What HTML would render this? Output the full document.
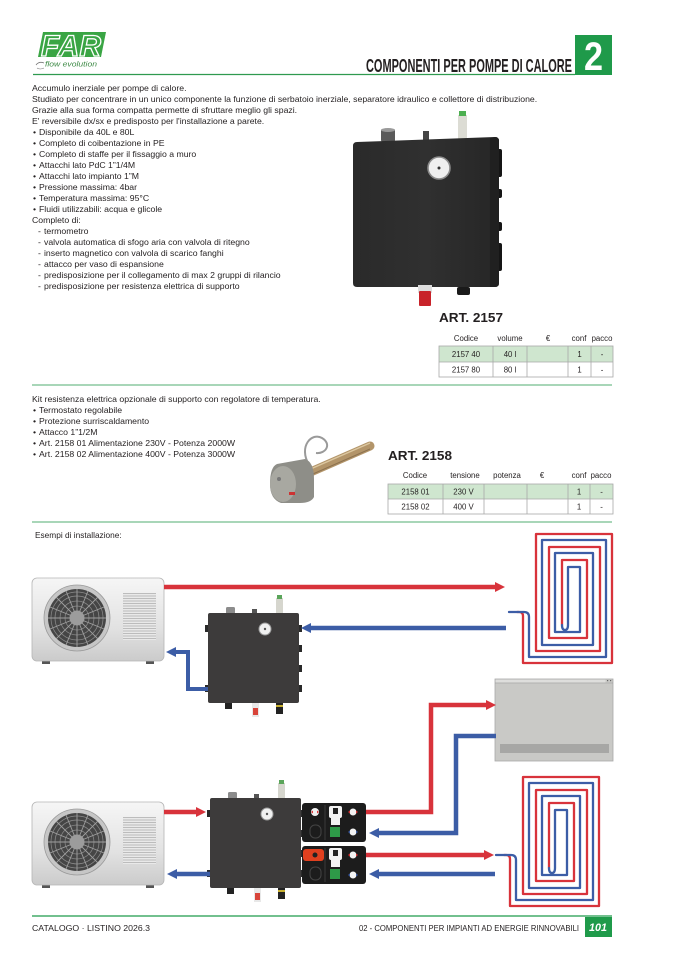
<!DOCTYPE html>
<html><head><meta charset="utf-8">
<style>
html,body{margin:0;padding:0;background:#fff;}
svg{display:block;}
text{font-family:"Liberation Sans",Arial,sans-serif;fill:#231f20;}
</style></head><body>
<svg width="677" height="958" viewBox="0 0 677 958" xmlns="http://www.w3.org/2000/svg">
<defs>
 <linearGradient id="hpg" x1="0" y1="0" x2="0" y2="1"><stop offset="0" stop-color="#f6f6f6"/><stop offset="0.6" stop-color="#e2e2e2"/><stop offset="1" stop-color="#cbcbcb"/></linearGradient>
 <linearGradient id="accg" x1="0" y1="0" x2="1" y2="0"><stop offset="0" stop-color="#2a2a2a"/><stop offset="0.5" stop-color="#303030"/><stop offset="1" stop-color="#262626"/></linearGradient>
 <pattern id="grl" width="4" height="2.5" patternUnits="userSpaceOnUse"><rect width="4" height="2.5" fill="#e9e9e9"/><rect width="4" height="1" fill="#bcbcbc"/></pattern>
 <g id="hp">
  <rect x="10" y="81" width="8" height="5" fill="#555"/>
  <rect x="114" y="81" width="8" height="5" fill="#555"/>
  <rect x="0" y="0" width="132" height="83" rx="5" fill="url(#hpg)" stroke="#b5b5b5" stroke-width="0.8"/>
  <rect x="91" y="15" width="33" height="47" fill="url(#grl)"/>
  <circle cx="45" cy="40" r="33" fill="#c6c6c6" stroke="#9a9a9a" stroke-width="0.8"/>
  <circle cx="45" cy="40" r="29" fill="#454545"/>
  <g fill="none" stroke="#8c8c8c" stroke-width="0.7">
   <circle cx="45" cy="40" r="12"/><circle cx="45" cy="40" r="17"/><circle cx="45" cy="40" r="22"/><circle cx="45" cy="40" r="26"/>
  </g>
  <g stroke="#a0a0a0" stroke-width="0.9">
   <line x1="45" y1="11" x2="45" y2="69"/><line x1="16" y1="40" x2="74" y2="40"/>
   <line x1="24.5" y1="19.5" x2="65.5" y2="60.5"/><line x1="65.5" y1="19.5" x2="24.5" y2="60.5"/>
   <line x1="34" y1="13" x2="56" y2="67"/><line x1="56" y1="13" x2="34" y2="67"/>
   <line x1="18" y1="29" x2="72" y2="51"/><line x1="18" y1="51" x2="72" y2="29"/>
  </g>
  <circle cx="45" cy="40" r="7.5" fill="#9c9c9c"/>
 </g>
 <g id="acc">
  <rect x="18" y="-6" width="9" height="7" rx="1.5" fill="#8c8c8c"/>
  <rect x="44" y="-4" width="5" height="5" fill="#555"/>
  <rect x="68" y="-15" width="7" height="16" fill="#d6d6ce"/>
  <rect x="69" y="-18" width="5" height="4" fill="#5aa55a"/>
  <rect x="-3" y="12" width="4" height="7" fill="#2a2a2a"/>
  <rect x="-3" y="72" width="4" height="7" fill="#2a2a2a"/>
  <rect x="90" y="12" width="4" height="7" fill="#2a2a2a"/>
  <rect x="90" y="32" width="4" height="7" fill="#2a2a2a"/>
  <rect x="90" y="52" width="4" height="7" fill="#2a2a2a"/>
  <rect x="90" y="72" width="4" height="7" fill="#2a2a2a"/>
  <rect x="0" y="0" width="91" height="90" rx="2" fill="#3d3b3b"/>
  <circle cx="57" cy="16" r="6" fill="#f0f0f0" stroke="#9a9a9a" stroke-width="1"/>
  <circle cx="57" cy="16" r="1.2" fill="#555"/>
  <rect x="17" y="90" width="7" height="6" fill="#222"/>
  <rect x="44" y="90" width="7" height="14" fill="#e8e8e8"/>
  <rect x="45" y="95" width="5" height="7" fill="#d8443a"/>
  <rect x="68" y="90" width="7" height="11" fill="#222"/>
  <rect x="68" y="92" width="7" height="2" fill="#c8b030"/>
 </g>
 <g id="coil" fill="none" stroke-width="2.3" stroke-linejoin="round" stroke-linecap="round">
  <path stroke="#d8333b" d="M517,612 H519 Q523,612 523,616 V663 H612 V534 H536 V651 H600 V547 H549 V638 H587 V560 H562 V625"/>
  <path stroke="#3c5da6" d="M509,612 H524 Q529,612 529,617 V657 H606 V540 H542 V645 H593 V553 H555 V632 H580 V567 H568 V625 Q568,630 565,630 Q562,630 562,625"/>
 </g>
</defs>

<!-- HEADER -->
<polygon points="43,32 106,32 101,57 38,57" fill="#3aa544"/>
<text x="41" y="56" font-size="30" font-weight="bold" font-style="italic" textLength="60" lengthAdjust="spacingAndGlyphs" style="fill:#3aa544" stroke="#fff" stroke-width="1.3">FAR</text>
<path d="M36,65 Q39,61 44,63" fill="none" stroke="#777" stroke-width="0.8"/>
<path d="M37,68 Q40,70 44,68" fill="none" stroke="#777" stroke-width="0.6"/>
<text x="45" y="66.5" font-size="7.5" font-style="italic" textLength="52" lengthAdjust="spacingAndGlyphs" style="fill:#3d8a45">flow evolution</text>

<text x="366" y="72" font-size="18" font-weight="bold" textLength="206" lengthAdjust="spacingAndGlyphs">COMPONENTI PER POMPE DI CALORE</text>
<rect x="575" y="35" width="37" height="40" fill="#1f9a4a"/>
<text x="584" y="70" font-size="40" font-weight="bold" textLength="19" lengthAdjust="spacingAndGlyphs" style="fill:#fff">2</text>
<line x1="33" y1="74.5" x2="575" y2="74.5" stroke="#2f9a4f" stroke-width="1.2"/>

<!-- BODY TEXT 1 -->
<g font-size="8.7">
<text x="32" y="91">Accumulo inerziale per pompe di calore.</text>
<text x="32" y="102">Studiato per concentrare in un unico componente la funzione di serbatoio inerziale, separatore idraulico e collettore di distribuzione.</text>
<text x="32" y="113">Grazie alla sua forma compatta permette di sfruttare meglio gli spazi.</text>
<text x="32" y="124">E' reversibile dx/sx e predisposto per l'installazione a parete.</text>
<text x="33" y="135">•</text><text x="39" y="135">Disponibile da 40L e 80L</text>
<text x="33" y="146">•</text><text x="39" y="146">Completo di coibentazione in PE</text>
<text x="33" y="157">•</text><text x="39" y="157">Completo di staffe per il fissaggio a muro</text>
<text x="33" y="168">•</text><text x="39" y="168">Attacchi lato PdC 1”1/4M</text>
<text x="33" y="179">•</text><text x="39" y="179">Attacchi lato impianto 1”M</text>
<text x="33" y="190">•</text><text x="39" y="190">Pressione massima: 4bar</text>
<text x="33" y="201">•</text><text x="39" y="201">Temperatura massima: 95°C</text>
<text x="33" y="212">•</text><text x="39" y="212">Fluidi utilizzabili: acqua e glicole</text>
<text x="32" y="223">Completo di:</text>
<text x="38" y="234">-</text><text x="44" y="234">termometro</text>
<text x="38" y="245">-</text><text x="44" y="245">valvola automatica di sfogo aria con valvola di ritegno</text>
<text x="38" y="256">-</text><text x="44" y="256">inserto magnetico con valvola di scarico fanghi</text>
<text x="38" y="267">-</text><text x="44" y="267">attacco per vaso di espansione</text>
<text x="38" y="278">-</text><text x="44" y="278">predisposizione per il collegamento di max 2 gruppi di rilancio</text>
<text x="38" y="289">-</text><text x="44" y="289">predisposizione per resistenza elettrica di supporto</text>
</g>

<!-- PRODUCT PHOTO 1 -->
<rect x="381" y="129" width="14" height="13" rx="2" fill="#5a5a5a"/>
<ellipse cx="388" cy="130" rx="7" ry="2" fill="#9a9a9a"/>
<rect x="423" y="131" width="6" height="9" fill="#444"/>
<rect x="458" y="115" width="9" height="26" fill="#dcdcd4"/>
<rect x="459" y="111" width="7" height="5" fill="#4caf50"/>
<rect x="494" y="149" width="8" height="28" rx="2" fill="#151515"/>
<rect x="494" y="189" width="8" height="9" rx="2" fill="#151515"/>
<rect x="494" y="222" width="8" height="9" rx="2" fill="#151515"/>
<rect x="494" y="243" width="8" height="28" rx="2" fill="#151515"/>
<path d="M357,142 L495,137 Q499,137 499,141 L499,283 Q499,287 495,287 L357,287 Q353,287 353,283 L353,146 Q353,142 357,142Z" fill="url(#accg)"/>
<path d="M490,138 L495,137 Q499,137 499,141 L499,283 Q499,287 495,287 L490,287Z" fill="#202020"/>
<circle cx="439" cy="168" r="11" fill="#efefef" stroke="#8a8a8a" stroke-width="1.6"/>
<circle cx="439" cy="168" r="1.5" fill="#333"/>
<rect x="418" y="285" width="14" height="8" fill="#ddd"/>
<rect x="419" y="291" width="12" height="15" rx="1" fill="#c8232a"/>
<rect x="457" y="287" width="13" height="8" rx="2" fill="#1a1a1a"/>

<!-- TABLE 1 -->
<text x="439" y="322" font-size="13" font-weight="bold" textLength="64" lengthAdjust="spacingAndGlyphs">ART. 2157</text>
<g font-size="7.8" text-anchor="middle">
<text x="466" y="341">Codice</text><text x="510" y="341">volume</text><text x="548" y="341">€</text><text x="579" y="341">conf</text><text x="602" y="341">pacco</text>
</g>
<rect x="439" y="346" width="174" height="16" fill="#cfe6cf"/>
<rect x="439" y="346" width="174" height="31" fill="none" stroke="#a8a8a8" stroke-width="0.8"/>
<g stroke="#a8a8a8" stroke-width="0.8">
<line x1="439" y1="362" x2="613" y2="362"/>
<line x1="493" y1="346" x2="493" y2="377"/><line x1="527" y1="346" x2="527" y2="377"/><line x1="568" y1="346" x2="568" y2="377"/><line x1="591" y1="346" x2="591" y2="377"/>
</g>
<g font-size="7.8" text-anchor="middle">
<text x="466" y="357">2157 40</text><text x="510" y="357">40 l</text><text x="579.5" y="357">1</text><text x="602" y="357">-</text>
<text x="466" y="372.5">2157 80</text><text x="510" y="372.5">80 l</text><text x="579.5" y="372.5">1</text><text x="602" y="372.5">-</text>
</g>
<line x1="32" y1="385" x2="612" y2="385" stroke="#8cc9a0" stroke-width="1.5"/>

<!-- SECTION 2 -->
<g font-size="8.7">
<text x="32" y="402">Kit resistenza elettrica opzionale di supporto con regolatore di temperatura.</text>
<text x="33" y="413">•</text><text x="39" y="413">Termostato regolabile</text>
<text x="33" y="424">•</text><text x="39" y="424">Protezione surriscaldamento</text>
<text x="33" y="435">•</text><text x="39" y="435">Attacco 1”1/2M</text>
<text x="33" y="446">•</text><text x="39" y="446">Art. 2158 01 Alimentazione 230V - Potenza 2000W</text>
<text x="33" y="457">•</text><text x="39" y="457">Art. 2158 02 Alimentazione 400V - Potenza 3000W</text>
</g>

<!-- heater -->
<path d="M309,465 C298,446 312,432 322,438 C332,444 326,454 316,453" fill="none" stroke="#9a9a9a" stroke-width="2"/>
<line x1="306" y1="474" x2="370" y2="446" stroke="#b3956a" stroke-width="9" stroke-linecap="round"/>
<line x1="306" y1="471" x2="370" y2="443" stroke="#dcc7a0" stroke-width="1.5"/>
<line x1="306" y1="477" x2="370" y2="449" stroke="#8c7250" stroke-width="1"/>
<path d="M277,464 L305,459 Q314,462 314,479 L314,497 Q311,503 300,503 L281,503 Q270,499 270,484 Q270,467 277,464Z" fill="#8e8e88"/>
<ellipse cx="283" cy="484" rx="13" ry="18" fill="#a8a8a1"/>
<circle cx="279" cy="479" r="2" fill="#777"/>
<rect x="289" y="492" width="6" height="3" fill="#c33"/>

<!-- TABLE 2 -->
<text x="388" y="460" font-size="13" font-weight="bold" textLength="64" lengthAdjust="spacingAndGlyphs">ART. 2158</text>
<g font-size="7.8" text-anchor="middle">
<text x="415" y="478">Codice</text><text x="465" y="478">tensione</text><text x="507" y="478">potenza</text><text x="542" y="478">€</text><text x="579" y="478">conf</text><text x="601" y="478">pacco</text>
</g>
<rect x="388" y="484" width="225" height="15" fill="#cfe6cf"/>
<rect x="388" y="484" width="225" height="30" fill="none" stroke="#a8a8a8" stroke-width="0.8"/>
<g stroke="#a8a8a8" stroke-width="0.8">
<line x1="388" y1="499" x2="613" y2="499"/>
<line x1="443" y1="484" x2="443" y2="514"/><line x1="484" y1="484" x2="484" y2="514"/><line x1="527" y1="484" x2="527" y2="514"/><line x1="568" y1="484" x2="568" y2="514"/><line x1="590" y1="484" x2="590" y2="514"/>
</g>
<g font-size="7.8" text-anchor="middle">
<text x="415.5" y="494.5">2158 01</text><text x="463.5" y="494.5">230 V</text><text x="579" y="494.5">1</text><text x="601.5" y="494.5">-</text>
<text x="415.5" y="509.5">2158 02</text><text x="463.5" y="509.5">400 V</text><text x="579" y="509.5">1</text><text x="601.5" y="509.5">-</text>
</g>
<line x1="32" y1="522" x2="612" y2="522" stroke="#8cc9a0" stroke-width="1.5"/>

<!-- INSTALLATION DIAGRAM -->
<text x="35" y="538" font-size="8.3">Esempi di installazione:</text>

<use href="#coil"/>
<use href="#coil" transform="translate(-13,243)"/>

<!-- fan coil -->
<rect x="495" y="679" width="118" height="82" fill="#c9c9c6" stroke="#a8a8a8" stroke-width="0.8"/>
<rect x="495.5" y="679.5" width="110" height="3" fill="#dededc"/>
<line x1="495" y1="683" x2="613" y2="683" stroke="#9a9a9a" stroke-width="0.6"/>
<rect x="500" y="744" width="109" height="9" fill="#a7a7a5"/>
<rect x="607" y="680" width="1.2" height="1.2" fill="#666"/><rect x="610" y="680" width="1.2" height="1.2" fill="#666"/>

<!-- heat pumps -->
<use href="#hp" transform="translate(32,578)"/>
<use href="#hp" transform="translate(32,802)"/>

<!-- accumulators -->
<use href="#acc" transform="translate(208,613)"/>
<use href="#acc" transform="translate(210,798)"/>

<!-- relaunch groups -->
<g transform="translate(302,803)">
 <rect x="0" y="0" width="64" height="39" rx="3" fill="#1c1c1c"/>
 <line x1="23" y1="2" x2="23" y2="37" stroke="#3a3a3a" stroke-width="1"/>
 <circle cx="13" cy="9" r="4" fill="#f2f2f2"/><polygon points="9,9 11,7.5 11,10.5" fill="#d33"/><polygon points="17,9 15,7.5 15,10.5" fill="#d33"/>
 <rect x="8" y="22" width="11" height="13" rx="5" fill="none" stroke="#444" stroke-width="1"/>
 <rect x="27" y="3" width="13" height="12" rx="2" fill="#f2f2f2"/><rect x="29" y="13" width="9" height="9" fill="#f2f2f2"/><rect x="31" y="5" width="5" height="6" fill="#222"/>
 <rect x="28" y="24" width="10" height="10" fill="#2e9a48"/>
 <circle cx="51" cy="9" r="3.5" fill="#f2f2f2"/><polygon points="46,9 48,7.5 48,10.5" fill="#d33"/><polygon points="56,9 54,7.5 54,10.5" fill="#d33"/>
 <circle cx="51" cy="29" r="3.5" fill="#f2f2f2"/><polygon points="46,29 48,27.5 48,30.5" fill="#3c5da6"/><polygon points="56,29 54,27.5 54,30.5" fill="#3c5da6"/>
</g>
<g transform="translate(302,846)">
 <rect x="0" y="0" width="64" height="38" rx="3" fill="#1c1c1c"/>
 <line x1="23" y1="2" x2="23" y2="36" stroke="#3a3a3a" stroke-width="1"/>
 <rect x="1" y="3" width="21" height="12" rx="3" fill="#e0401f"/><circle cx="13" cy="9" r="2.5" fill="#222"/>
 <rect x="8" y="21" width="11" height="13" rx="5" fill="none" stroke="#444" stroke-width="1"/>
 <rect x="27" y="2" width="13" height="12" rx="2" fill="#f2f2f2"/><rect x="29" y="12" width="9" height="9" fill="#f2f2f2"/><rect x="31" y="4" width="5" height="6" fill="#222"/>
 <rect x="28" y="23" width="10" height="10" fill="#2e9a48"/>
 <circle cx="51" cy="9" r="3.5" fill="#f2f2f2"/><polygon points="46,9 48,7.5 48,10.5" fill="#d33"/><polygon points="56,9 54,7.5 54,10.5" fill="#d33"/>
 <circle cx="51" cy="29" r="3.5" fill="#f2f2f2"/><polygon points="46,29 48,27.5 48,30.5" fill="#3c5da6"/><polygon points="56,29 54,27.5 54,30.5" fill="#3c5da6"/>
</g>

<!-- arrows -->
<g fill="none" stroke-width="4.5">
 <line x1="164" y1="587" x2="497" y2="587" stroke="#d8333b"/>
 <line x1="506" y1="628" x2="309" y2="628" stroke="#3c5da6"/>
 <path d="M208,689 H188 V652 H175" stroke="#3c5da6" stroke-width="4"/>
 <path d="M366,812 H431 V705 H488" stroke="#d8333b"/>
 <path d="M496,736 H456 V833 H377" stroke="#3c5da6"/>
 <line x1="366" y1="855" x2="486" y2="855" stroke="#d8333b"/>
 <line x1="495" y1="874" x2="377" y2="874" stroke="#3c5da6"/>
 <line x1="164" y1="812" x2="198" y2="812" stroke="#d8333b"/>
 <line x1="210" y1="874" x2="175" y2="874" stroke="#3c5da6"/>
</g>
<g>
 <polygon points="495,582 505,587 495,592" fill="#d8333b"/>
 <polygon points="311,623 301,628 311,633" fill="#3c5da6"/>
 <polygon points="176,647 166,652 176,657" fill="#3c5da6"/>
 <polygon points="486,700 496,705 486,710" fill="#d8333b"/>
 <polygon points="379,828 369,833 379,838" fill="#3c5da6"/>
 <polygon points="484,850 494,855 484,860" fill="#d8333b"/>
 <polygon points="379,869 369,874 379,879" fill="#3c5da6"/>
 <polygon points="196,807 206,812 196,817" fill="#d8333b"/>
 <polygon points="177,869 167,874 177,879" fill="#3c5da6"/>
</g>

<!-- FOOTER -->
<line x1="32" y1="916" x2="612" y2="916" stroke="#1f9a4a" stroke-width="1.3"/>
<text x="32" y="931" font-size="8.5" textLength="118" lengthAdjust="spacingAndGlyphs">CATALOGO · LISTINO 2026.3</text>
<text x="359" y="931" font-size="8" textLength="220" lengthAdjust="spacingAndGlyphs">02 - COMPONENTI PER IMPIANTI AD ENERGIE RINNOVABILI</text>
<rect x="585" y="917" width="27" height="20" fill="#1f9a4a"/>
<text x="589" y="931" font-size="11" font-weight="bold" font-style="italic" textLength="18" lengthAdjust="spacingAndGlyphs" style="fill:#fff">101</text>
</svg>
</body></html>
